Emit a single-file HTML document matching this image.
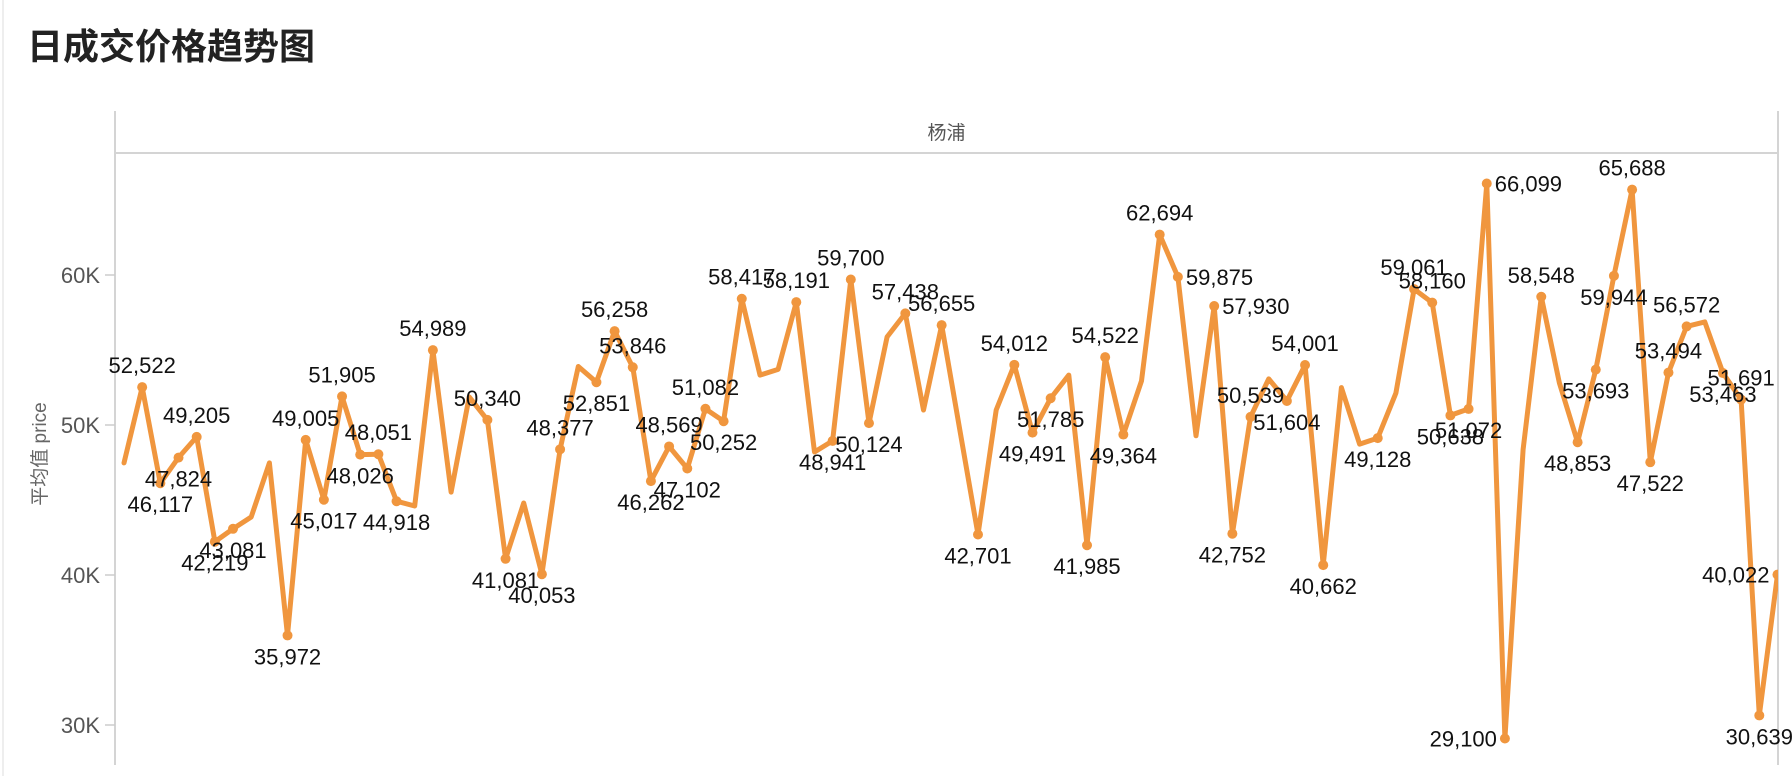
<!DOCTYPE html>
<html><head><meta charset="utf-8">
<style>
html,body{margin:0;padding:0;background:#fff;}
body{width:1792px;height:776px;overflow:hidden;position:relative;font-family:"Liberation Sans","Noto Sans CJK SC",sans-serif;}
#title{position:absolute;left:27px;top:18px;font-size:36px;font-weight:bold;color:#222;font-family:"Liberation Sans","Noto Sans CJK SC",sans-serif;}
svg{position:absolute;left:0;top:0;}
</style></head>
<body>
<div id="title">日成交价格趋势图</div>
<svg id="chart" width="1792" height="776"></svg>
<script>
const values = [47470,52522,46117,47824,49205,42219,43081,43870,47470,35972,
49005,45017,51905,48026,48051,44918,44600,54989,45530,51870,
50340,41081,44800,40053,48377,53900,52851,56258,53846,46262,
48569,47102,51082,50252,58417,53330,53710,58191,48200,48941,
59700,50124,55870,57438,51000,56655,49680,42701,51000,54012,
49491,51785,53330,41985,54522,49364,52940,62694,59875,49280,
57930,42752,50539,53070,51604,54001,40662,52490,48730,49128,
52130,59061,58160,50638,51072,66099,29100,48360,58548,52800,
48853,53693,59944,65688,47522,53494,56572,56870,53463,51691,
30639,40022];
const labeledIdx = [1,2,3,4,5,6,9,10,11,12,13,14,15,17,20,21,23,24,26,27,28,29,30,31,32,33,34,37,39,40,41,43,45,47,49,50,51,53,54,55,57,58,60,61,62,64,65,66,69,71,72,73,74,75,76,78,80,81,82,83,84,85,86,88,89,90,91];
const yTicks = [30000,40000,50000,60000];
const yTickLabels = ["30K","40K","50K","60K"];
const rightLabels = [58,60,75];
const leftLabels = [76,91];

const NS="http://www.w3.org/2000/svg";
const svg=document.getElementById('chart');
const L=115,R=1778,T=111,H=153,B=765;
const x0=124,dx=18.17;
function xs(i){return x0+dx*i;}
function ys(v){return 425-(v-50000)*0.015;}
function mk(tag,attrs){const e=document.createElementNS(NS,tag);for(const k in attrs)e.setAttribute(k,attrs[k]);svg.appendChild(e);return e;}

const clip=document.createElementNS(NS,'clipPath');clip.setAttribute('id','pc');
const cr=document.createElementNS(NS,'rect');cr.setAttribute('x',L);cr.setAttribute('y',H);cr.setAttribute('width',R-L);cr.setAttribute('height',B-H);
clip.appendChild(cr);svg.appendChild(clip);

let e;
e=mk('line',{x1:3,y1:0,x2:3,y2:776,stroke:'#eee','stroke-width':2});


e=mk('line',{x1:L,y1:T,x2:L,y2:B,stroke:'#d4d4d4','stroke-width':2});


e=mk('line',{x1:L,y1:H,x2:R,y2:H,stroke:'#d4d4d4','stroke-width':2});


e=mk('line',{x1:R,y1:T,x2:R,y2:B,stroke:'#d4d4d4','stroke-width':2});


e=mk('text',{x:(L+R)/2,y:139,'font-size':19,fill:'#555','text-anchor':'middle','font-family':'"Liberation Sans","Noto Sans CJK SC",sans-serif'});
e.textContent='杨浦';


e=mk('text',{x:0,y:0,'font-size':19,fill:'#666','text-anchor':'middle',transform:'translate(46,454) rotate(-90)','font-family':'"Liberation Sans","Noto Sans CJK SC",sans-serif'});
e.textContent='平均值 price';



yTicks.forEach((t,k)=>{
  const y=ys(t);
  const tk=mk('line',{x1:L-10,y1:y,x2:L,y2:y,stroke:'#ccc','stroke-width':1.5});
  
  
  const tl=mk('text',{x:L-15,y:y+8,'font-size':22,fill:'#555','text-anchor':'end'});
  tl.textContent=yTickLabels[k];
  
  
});

const g=mk('g',{'clip-path':'url(#pc)'});


const pts=values.map((v,i)=>xs(i).toFixed(1)+','+ys(v).toFixed(1)).join(' ');
const pl=document.createElementNS(NS,'polyline');
pl.setAttribute('points',pts);pl.setAttribute('fill','none');pl.setAttribute('stroke','#F0963E');
pl.setAttribute('stroke-width',5);pl.setAttribute('stroke-linejoin','round');pl.setAttribute('stroke-linecap','round');


g.appendChild(pl);

labeledIdx.forEach(i=>{
  const v=values[i],x=xs(i),y=ys(v);
  const c=document.createElementNS(NS,'circle');
  c.setAttribute('cx',x);c.setAttribute('cy',y);c.setAttribute('r',5);c.setAttribute('fill','#F0963E');
  
  
  g.appendChild(c);
});
labeledIdx.forEach(i=>{
  const v=values[i],x=xs(i),y=ys(v);
  const p=i>0?values[i-1]:v,n=i<values.length-1?values[i+1]:v;
  let tx=x,ty,anchor='middle';
  if(rightLabels.indexOf(i)>=0){tx=x+8;ty=y+8;anchor='start';}
  else if(leftLabels.indexOf(i)>=0){tx=x-8;ty=y+8;anchor='end';}
  else if(v>=Math.max(p,n)||v>(p+n)/2+800){ty=y-14;}
  else{ty=y+29;}
  const t=mk('text',{x:tx,y:ty,'font-size':22,fill:'#111','text-anchor':anchor});
  t.textContent=v.toLocaleString('en-US');
  
  
});
</script>
</body></html>
